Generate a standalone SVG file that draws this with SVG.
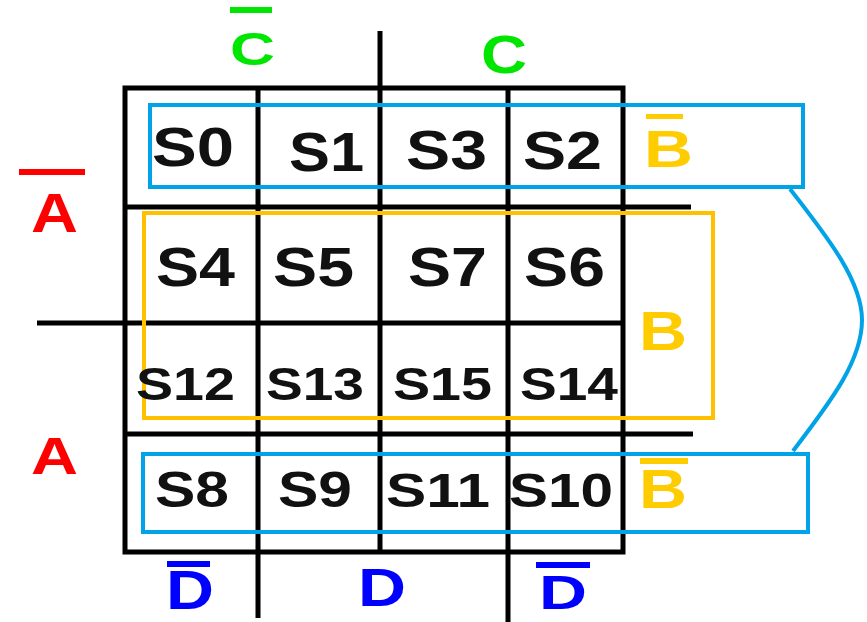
<svg xmlns="http://www.w3.org/2000/svg" width="867" height="622" viewBox="0 0 867 622">
<style>
.g{stroke:#000;stroke-width:5;fill:none;stroke-linecap:butt}
.s{font-family:"Liberation Sans",Arial,sans-serif;font-weight:bold;fill:#111}
.l{font-family:"Liberation Sans",Arial,sans-serif;font-weight:bold}
.cy{fill:none;stroke:#00A2E8;stroke-width:4}
.or{fill:none;stroke:#FFC000;stroke-width:4}
</style>
<rect width="867" height="622" fill="#fff"/>
<g id="grid">
<path class="g" d="M125,88H623V552H125Z"/>
<line class="g" x1="258" y1="88" x2="258" y2="618"/>
<line class="g" x1="380" y1="31" x2="380" y2="552"/>
<line class="g" x1="508" y1="88" x2="508" y2="622"/>
<line class="g" x1="125" y1="207" x2="691" y2="207"/>
<line class="g" x1="37" y1="323" x2="623" y2="323"/>
<line class="g" x1="125" y1="434" x2="693" y2="434"/>
</g>
<g id="connectors">
<rect class="cy" x="150" y="105" width="653" height="82"/>
<rect class="cy" x="143" y="454" width="665" height="78"/>
<rect class="or" x="144" y="213" width="569" height="205"/>
<path class="cy" d="M790,189 C830,240 862,282 862,320 C862,360 832,400 793,451" stroke-width="3"/>
</g>
<g id="cells">
<text class="s" x="152" y="166" font-size="56" textLength="82" lengthAdjust="spacingAndGlyphs">S0</text>
<text class="s" x="289" y="171" font-size="56" textLength="75" lengthAdjust="spacingAndGlyphs">S1</text>
<text class="s" x="406" y="169" font-size="55" textLength="81" lengthAdjust="spacingAndGlyphs">S3</text>
<text class="s" x="523" y="169" font-size="53" textLength="79" lengthAdjust="spacingAndGlyphs">S2</text>
<text class="s" x="156" y="286" font-size="55" textLength="79" lengthAdjust="spacingAndGlyphs">S4</text>
<text class="s" x="273" y="286" font-size="55" textLength="81" lengthAdjust="spacingAndGlyphs">S5</text>
<text class="s" x="408" y="286" font-size="55" textLength="79" lengthAdjust="spacingAndGlyphs">S7</text>
<text class="s" x="524" y="286" font-size="55" textLength="81" lengthAdjust="spacingAndGlyphs">S6</text>
<text class="s" x="136" y="400" font-size="46" textLength="99" lengthAdjust="spacingAndGlyphs">S12</text>
<text class="s" x="266" y="400" font-size="46" textLength="98" lengthAdjust="spacingAndGlyphs">S13</text>
<text class="s" x="393" y="400" font-size="46" textLength="99" lengthAdjust="spacingAndGlyphs">S15</text>
<text class="s" x="520" y="400" font-size="46" textLength="98" lengthAdjust="spacingAndGlyphs">S14</text>
<text class="s" x="155" y="507" font-size="50" textLength="74" lengthAdjust="spacingAndGlyphs">S8</text>
<text class="s" x="278" y="507" font-size="50" textLength="74" lengthAdjust="spacingAndGlyphs">S9</text>
<text class="s" x="386" y="507" font-size="48" textLength="104" lengthAdjust="spacingAndGlyphs">S11</text>
<text class="s" x="509" y="507" font-size="48" textLength="104" lengthAdjust="spacingAndGlyphs">S10</text>
</g>
<g id="labels">
<g id="Cbar" fill="#00E600">
<rect x="230" y="7" width="42" height="6"/>
<text class="l" x="230" y="65" font-size="46" textLength="45" lengthAdjust="spacingAndGlyphs">C</text>
</g>
<g id="C" fill="#00E600">
<text class="l" x="481" y="73" font-size="54" textLength="46" lengthAdjust="spacingAndGlyphs">C</text>
</g>
<g id="Abar" fill="#FF0000">
<rect x="19" y="169" width="66" height="6"/>
<text class="l" x="31" y="232" font-size="55" textLength="47" lengthAdjust="spacingAndGlyphs">A</text>
</g>
<g id="A" fill="#FF0000">
<text class="l" x="31" y="474" font-size="52" textLength="47" lengthAdjust="spacingAndGlyphs">A</text>
</g>
<g id="Bbar1" fill="#FFCC00">
<rect x="646" y="114" width="37" height="5"/>
<text class="l" x="644" y="167" font-size="51" textLength="49" lengthAdjust="spacingAndGlyphs">B</text>
</g>
<g id="B" fill="#FFCC00">
<text class="l" x="639" y="350" font-size="55" textLength="48" lengthAdjust="spacingAndGlyphs">B</text>
</g>
<g id="Bbar2" fill="#FFCC00">
<rect x="640" y="458" width="48" height="6"/>
<text class="l" x="639" y="508" font-size="55" textLength="48" lengthAdjust="spacingAndGlyphs">B</text>
</g>
<g id="Dbar1" fill="#0000FF">
<rect x="167" y="561" width="43" height="6"/>
<text class="l" x="166" y="609" font-size="55" textLength="48" lengthAdjust="spacingAndGlyphs">D</text>
</g>
<g id="D" fill="#0000FF">
<text class="l" x="358" y="606" font-size="53" textLength="48" lengthAdjust="spacingAndGlyphs">D</text>
</g>
<g id="Dbar2" fill="#0000FF">
<rect x="536" y="562" width="54" height="6"/>
<text class="l" x="539" y="609" font-size="49" textLength="48" lengthAdjust="spacingAndGlyphs">D</text>
</g>
</g>
</svg>
